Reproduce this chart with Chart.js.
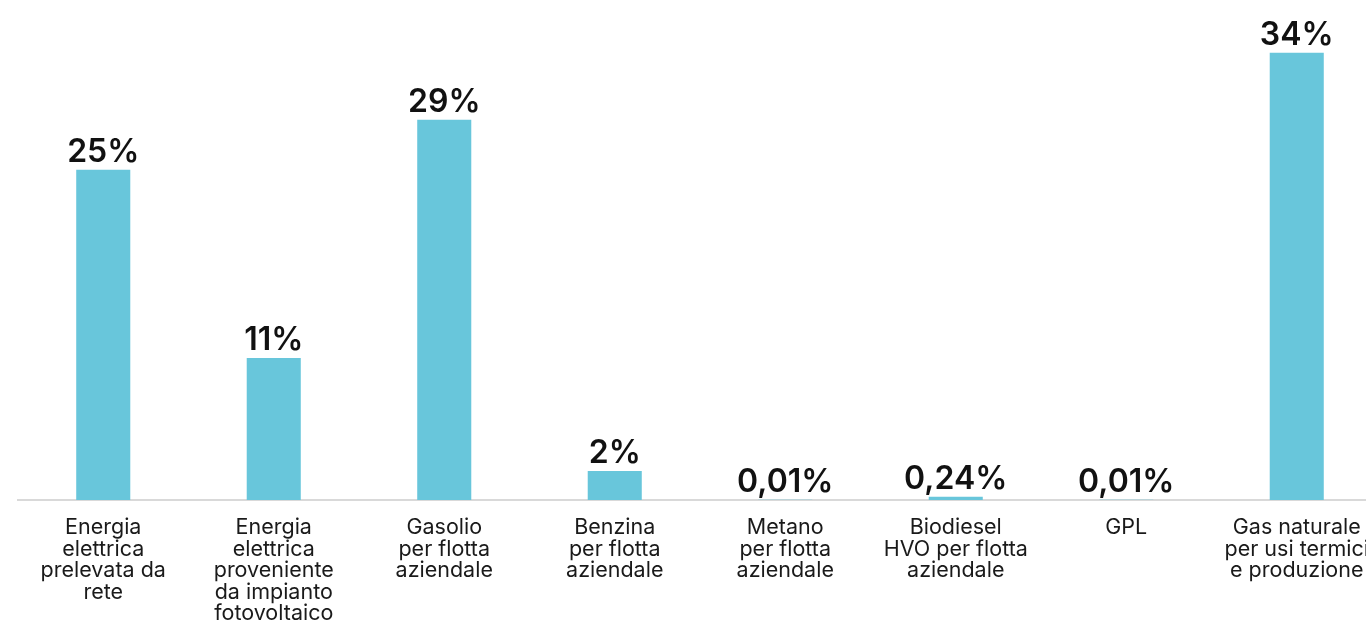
<!DOCTYPE html>
<html>
<head>
<meta charset="utf-8">
<script src="https://cdn.jsdelivr.net/npm/chart.js@4"></script>
<style>
  html, body { margin: 0; padding: 0; background: #fff; overflow: hidden; }
  #wrap { width: 1382px; height: 620px; position: relative; }
</style>
</head>
<body>
<div id="wrap"><canvas id="energyChart"></canvas></div>
<script>
// categories (multi-line tick labels)
var categories = [
    ['Energia', 'elettrica', 'prelevata da', 'rete'],
    ['Energia', 'elettrica', 'proveniente', 'da impianto', 'fotovoltaico'],
    ['Gasolio', 'per flotta', 'aziendale'],
    ['Benzina', 'per flotta', 'aziendale'],
    ['Metano', 'per flotta', 'aziendale'],
    ['Biodiesel', 'HVO per flotta', 'aziendale'],
    ['GPL'],
    ['Gas naturale', 'per usi termici', 'e produzione']
];

// share of energy consumption (%)
var values = [25.1, 10.8, 28.9, 2.2, 0.01, 0.24, 0.01, 34];

// text shown above each bar
var valueLabels = ['25%', '11%', '29%', '2%', '0,01%', '0,24%', '0,01%', '34%'];

// draw the percentage above each bar
var barLabels = {
    id: 'barLabels',
    afterDatasetsDraw: function(chart) {
        var ctx = chart.ctx;
        var meta = chart.getDatasetMeta(0);
        ctx.save();
        ctx.font = '600 32px Inter, "Noto Sans", sans-serif';
        ctx.fillStyle = '#111';
        ctx.textAlign = 'center';
        ctx.textBaseline = 'alphabetic';
        meta.data.forEach(function(bar, i) {
            ctx.fillText(valueLabels[i], bar.x, bar.y - 8);
        });
        ctx.restore();
    }
};

var ctx = document.getElementById('energyChart').getContext('2d');
var energyChart = new Chart(ctx, {
    type: 'bar',
    data: {
        labels: categories,
        datasets: [{
            data: values,
            backgroundColor: '#68C6DB',
            borderWidth: 0,
            categoryPercentage: 1,
            barPercentage: 0.317
        }]
    },
    options: {
        responsive: true,
        maintainAspectRatio: false,
        animation: false,
        layout: { padding: { left: 18, right: 0, top: 0, bottom: 0 } },
        plugins: {
            legend: { display: false },
            tooltip: { enabled: false }
        },
        scales: {
            x: {
                grid: { display: false },
                border: { display: true, color: '#d9d9d9', width: 2 },
                ticks: {
                    autoSkip: false,
                    maxRotation: 0,
                    minRotation: 0,
                    padding: 9,
                    color: '#1a1a1a',
                    font: { family: 'Inter, "Noto Sans", sans-serif', size: 21.5, lineHeight: 1.0 }
                },
                afterFit: function(scale) { scale.height = 120; } // fixed room for labels
            },
            y: {
                display: false,
                min: 0,
                max: 38
            }
        }
    },
    plugins: [barLabels]
});
</script>
</body>
</html>
